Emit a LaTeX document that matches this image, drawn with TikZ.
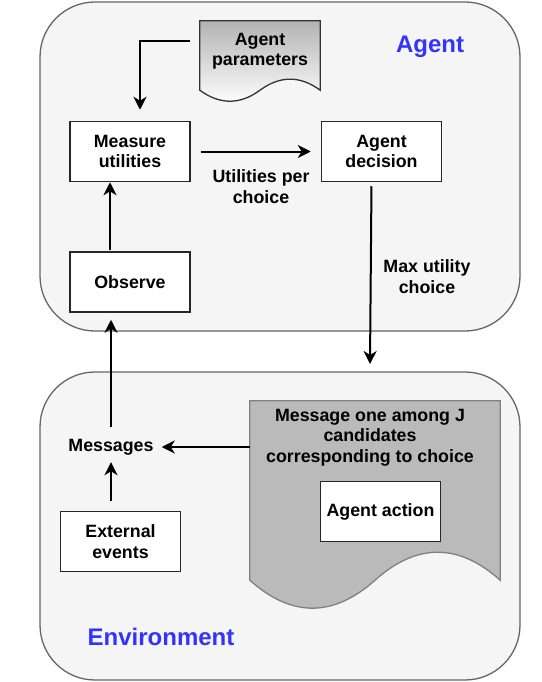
\documentclass[tikz,border=0pt]{standalone}
\usepackage{fontspec}
\setmainfont{Liberation Sans}
\usetikzlibrary{arrows.meta,positioning}
\definecolor{titleblue}{HTML}{3333FF}

\begin{document}
\begin{tikzpicture}[x=1pt, y=-1pt,
		txt/.style   = {font=\fontsize{17.8}{20.5}\selectfont\bfseries, align=center, inner sep=0pt},
		zone/.style  = {draw=black!60, fill=black!4, line width=1.3pt, rounded corners=55pt, minimum width=480pt},
		title/.style = {txt, font=\fontsize{24}{27}\selectfont\bfseries, text=titleblue},
		basic/.style = {txt, draw=black!85, fill=white, line width=1.5pt, minimum width=120pt, minimum height=60pt},
		page/.style  = {inner sep=0pt},
		link/.style  = {->, line width=2pt},
		>={Stealth[length=13pt, width=13pt, inset=4pt]}]
		
		\useasboundingbox (0,0) rectangle (541,682);
		
		% the two zones
		\node[zone, minimum height=329pt] (agt) at (280,166.5) {};
		\node[zone, minimum height=308pt] (env) at (280,526) {};
		\node[title] (agtname) at (430,47) {Agent};
		\node[title] (envname) at (161,637) {Environment};
		
		% document shapes
		\node[page, minimum width=120pt, minimum height=69pt] (apdoc) at (260,55.5) {};
		\path[draw=black!80, line width=1.3pt, top color=black!30, middle color=black!14, bottom color=white]
		(apdoc.south west) -- (apdoc.north west) -- (apdoc.north east) -- (apdoc.south east)
		.. controls +(-20,-14.7) and +(20,-14.7) .. (apdoc.south)
		.. controls +(-20,14.7) and +(20,14.7) .. (apdoc.south west) -- cycle;
		\node[txt, below=12pt of apdoc.north] (ap) {Agent\\parameters};
		
		\node[page, minimum width=250pt, minimum height=179pt] (mdoc) at (375,490.5) {};
		\path[draw=black!50, line width=1.3pt, fill=black!27]
		(mdoc.south west) -- (mdoc.north west) -- (mdoc.north east) -- (mdoc.south east)
		.. controls +(-41.7,-37.3) and +(41.7,-37.3) .. (mdoc.south)
		.. controls +(-41.7,37.3) and +(41.7,37.3) .. (mdoc.south west) -- cycle;
		\node[txt, below=8pt of mdoc.north, xshift=-5pt] (mo) {Message one among J\\candidates\\corresponding to choice};
		
		% boxes
		\node[basic] (mu) at (130,151.5) {Measure\\utilities};
		\node[basic, right=130pt of mu] (ad) {Agent\\decision};
		\node[basic, below=69pt of mu] (obs) {Observe};
		\node[basic] (aa) at (380.5,511.5) {Agent action};
		\node[basic] (ext) at (120.5,541.5) {External\\events};
		\node[txt] (msg) at (111,447) {Messages};
		
		\node[txt] (uchoice) at (261,186.5) {Utilities per\\choice};
		\node[txt] (mchoice) at (427,276.5) {Max utility\\choice};
		\coordinate (drop) at (370,364);
		
		% connectors
		\draw[link] ([shift={(-10pt,14.5pt)}]apdoc.west) -| ([xshift=10pt, yshift=11pt]mu.north);
		\draw[link, shorten <=10pt, shorten >=10pt] (mu) -- (ad);
		\draw[link, shorten <=1pt] ([xshift=-20pt]obs.north) -- ([xshift=-20pt]mu.south);
		\draw[link, shorten <=4pt] ([xshift=-10pt]ad.south) -- (drop);
		\draw[link, shorten <=12pt, shorten >=7pt] (msg.north) -- (msg.north |- obs.south);
		\draw[link, shorten >=8pt] (msg.east -| mdoc.west) -- (msg.east);
		\draw[link, shorten <=10pt, shorten >=7pt] (msg.south |- ext.north) -- (msg.south);
		
	\end{tikzpicture}
\end{document}
